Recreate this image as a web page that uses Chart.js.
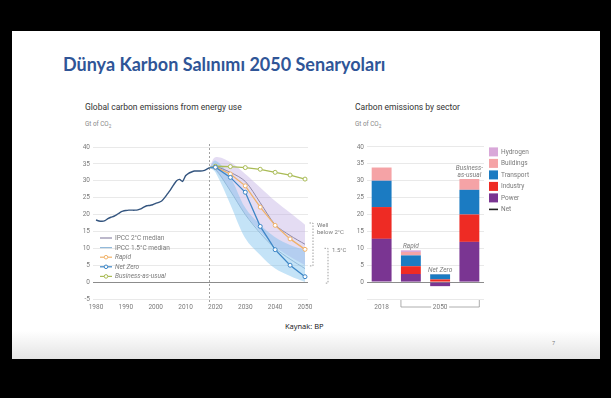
<!DOCTYPE html>
<html>
<head>
<meta charset="utf-8">
<script src="https://cdn.jsdelivr.net/npm/chart.js@4"></script>
<style>
html, body { margin: 0; padding: 0; background: #000; width: 611px; height: 398px; overflow: hidden; }
#slide { position: absolute; left: 12px; top: 31px; width: 588px; height: 328px;
  background: linear-gradient(to bottom, #fff 0, #fff 300px, #e4e4e4 328px); }
.t { position: absolute; white-space: nowrap; }
#title { left: 63px; top: 54px; font: bold 18px Lato, sans-serif; color: #2f5597; line-height: 21px; }
.ctitle { top: 102px; font: 400 8.5px Roboto, sans-serif; color: #333; }
.unit { top: 120px; font: 6.3px Roboto, sans-serif; color: #888; }
.unit sub { font-size: 4.5px; }
#src { left: 285px; top: 321px; font: 7.5px 'Open Sans', sans-serif; color: #111; }
#pg { left: 552px; top: 339px; font: 5.5px 'Open Sans', sans-serif; color: #777; }
canvas { position: absolute; }
</style>
</head>
<body>
<div id="slide"></div>
<div class="t" id="title">Dünya Karbon Salınımı 2050 Senaryoları</div>
<div class="t ctitle" style="left:85px">Global carbon emissions from energy use</div>
<div class="t unit" style="left:85px">Gt of CO<sub>2</sub></div>
<div class="t ctitle" style="left:355px">Carbon emissions by sector</div>
<div class="t unit" style="left:355px">Gt of CO<sub>2</sub></div>
<div class="t" id="src">Kaynak: BP</div>
<div class="t" id="pg">7</div>
<canvas id="chartLines" width="300" height="185" style="left:60px;top:140px"></canvas>
<canvas id="chartSector" width="200" height="185" style="left:345px;top:140px"></canvas>
<script>
// ---- left chart data ----
const histYears = [1980,1981,1982,1983,1984,1985,1986,1987,1988,1989,1990,1991,1992,1993,1994,1995,1996,1997,1998,1999,
  2000,2001,2002,2003,2004,2005,2006,2007,2008,2009,2010,2011,2012,2013,2014,2015,2016,2017,2018]
const histValues = [18.4,18.1,18.0,18.2,18.8,19.2,19.5,20.0,20.6,21.0,21.2,21.3,21.3,21.3,21.4,21.7,22.2,22.6,22.7,22.9,
  23.3,23.6,24.0,25.0,26.2,27.4,28.8,30.0,30.4,29.8,31.5,32.2,32.6,32.9,32.9,32.9,33.0,33.4,33.9]

const scenYears = [2018, 2020, 2025, 2030, 2035, 2040, 2045, 2050]
const bau = [33.9, 34.3, 34.2, 33.9, 33.4, 32.5, 31.7, 30.5]
const rapid = [33.9, 34.0, 32.0, 28.5, 22.2, 16.8, 12.8, 9.7]
const netZero = [33.9, 34.0, 31.0, 26.6, 16.5, 9.6, 5.0, 1.6]
const ipcc2Median = [33.9, 34.2, 32.5, 29.8, 23.5, 17.0, 13.8, 11.2]
const ipcc15Median = [33.9, 33.5, 27.0, 20.0, 14.5, 10.0, 6.8, 4.0]
const band2Upper = [33.9, 37.0, 35.5, 32.0, 28.0, 24.0, 20.5, 17.0]
const band2Lower = [33.9, 33.0, 27.0, 20.0, 15.0, 10.5, 7.5, 5.0]
const band15Upper = [33.9, 36.0, 31.0, 22.0, 17.0, 13.3, 11.0, 9.5]
const band15Lower = [33.9, 32.5, 23.0, 13.0, 8.0, 4.0, 1.8, 0.0]

const xTicks = [1980, 1990, 2000, 2010, 2020, 2030, 2040, 2050]
const dividerYear = 2018
const bracketLabels = [['Well', 'below 2°C'], ['1.5°C']]
const bracketRanges = [[17.5, 4.8], [10, -0.3]]
const legendLabels = ['IPCC 2°C median', 'IPCC 1.5°C median', 'Rapid', 'Net Zero', 'Business-as-usual']

// ---- right chart data ----
const sectorBars = ['2018', 'Rapid', 'Net Zero', 'Business-as-usual']
const barLabels = [[], ['Rapid'], ['Net Zero'], ['Business-', 'as-usual']]
const xTickLabels = ['2018', '', '2050', '']
const sectors = ['Power', 'Industry', 'Transport', 'Buildings', 'Hydrogen']
const power = [12.8, 2.4, -1.2, 11.9]
const industry = [9.4, 2.3, 0.8, 8.1]
const transport = [7.8, 3.2, 1.5, 7.3]
const buildings = [3.9, 1.0, 0.1, 3.2]
const hydrogen = [0, 0.5, 0, 0]
const net = [null, null, 1.2, null]

const grey = '#7a7a7a'
const tickFont = { family: 'Roboto', size: 6.5 }
const c = {
    hist: '#34557f', bau: '#a9bb55', rapid: '#f0b269', netZero: '#3d86c6',
    med2: '#8f88a8', med15: '#93bada',
    band2: 'rgba(190,172,226,0.42)', band15: 'rgba(115,188,236,0.42)'
}
const sectorColors = ['#7a3592', '#ee2b24', '#1b7bc2', '#f5a3a6', '#d9a8d9']

const pts = arr => scenYears.map((y, i) => ({ x: y, y: arr[i] }))
const dotRadius = scenYears.map(y => y === dividerYear ? 0 : 2)

function scenarioLine(label, arr, color) {
    return {
        label: label, data: pts(arr), borderColor: color, borderWidth: 1.3,
        pointRadius: dotRadius, pointBackgroundColor: '#fff', pointBorderColor: color, pointBorderWidth: 1
    }
}

const leftExtras = {
    id: 'leftExtras',
    beforeDatasetsDraw(chart) {
        const { ctx, chartArea, scales } = chart
        const x = scales.x.getPixelForValue(dividerYear)
        ctx.save()
        ctx.strokeStyle = '#8a8a8a'
        ctx.lineWidth = 0.8
        ctx.setLineDash([2, 2])
        ctx.beginPath()
        ctx.moveTo(x, chartArea.top - 3)
        ctx.lineTo(x, chartArea.bottom + 5)
        ctx.stroke()
        ctx.restore()
    },
    afterDraw(chart) {
        const { ctx, chartArea, scales } = chart
        ctx.save()
        // brackets on the right
        const bx = [chartArea.right + 5, chartArea.right + 20]
        bracketRanges.forEach((r, i) => {
            const y1 = scales.y.getPixelForValue(r[0]), y2 = scales.y.getPixelForValue(r[1])
            ctx.strokeStyle = '#777'
            ctx.lineWidth = 0.7
            ctx.setLineDash([1.5, 1.5])
            ctx.beginPath()
            ctx.moveTo(bx[i] - 3.5, y1); ctx.lineTo(bx[i], y1); ctx.lineTo(bx[i], y2); ctx.lineTo(bx[i] - 3.5, y2)
            ctx.stroke()
            ctx.setLineDash([])
            ctx.fillStyle = grey
            ctx.font = '6px Roboto'
            ctx.textBaseline = 'middle'
            bracketLabels[i].forEach((t, j) => ctx.fillText(t, bx[i] + 4, y1 + 2 + j * 7.5))
        })
        // legend
        const colors = [c.med2, c.med15, c.rapid, c.netZero, c.bau]
        const lx = chartArea.left + 7, ly = chartArea.top + 91
        legendLabels.forEach((t, i) => {
            const y = ly + i * 9.6
            ctx.strokeStyle = colors[i]
            ctx.lineWidth = 1.2
            ctx.beginPath(); ctx.moveTo(lx, y); ctx.lineTo(lx + 12, y); ctx.stroke()
            if (i > 1) {
                ctx.fillStyle = '#fff'
                ctx.lineWidth = 1
                ctx.beginPath(); ctx.arc(lx + 6, y, 1.8, 0, Math.PI * 2); ctx.fill(); ctx.stroke()
            }
            ctx.fillStyle = grey
            ctx.font = (i > 1 ? 'italic ' : '') + '6.5px Roboto'
            ctx.textBaseline = 'middle'
            ctx.fillText(t, lx + 15, y + 0.3)
        })
        ctx.restore()
    }
}

new Chart(document.getElementById('chartLines'), {
    type: 'line',
    data: {
        datasets: [
            { label: 'History', data: histYears.map((y, i) => ({ x: y, y: histValues[i] })),
              borderColor: c.hist, borderWidth: 1.4, pointRadius: 0, tension: 0.2 },
            scenarioLine('Net Zero', netZero, c.netZero),
            scenarioLine('Rapid', rapid, c.rapid),
            scenarioLine('Business-as-usual', bau, c.bau),
            { label: 'IPCC 1.5°C median', data: pts(ipcc15Median), borderColor: c.med15, borderWidth: 1, pointRadius: 0, tension: 0.3 },
            { label: 'IPCC 2°C median', data: pts(ipcc2Median), borderColor: c.med2, borderWidth: 1, pointRadius: 0, tension: 0.3 },
            { label: 'b15u', data: pts(band15Upper), borderWidth: 0, pointRadius: 0, tension: 0.35, fill: '+1', backgroundColor: c.band15 },
            { label: 'b15l', data: pts(band15Lower), borderWidth: 0, pointRadius: 0, tension: 0.35 },
            { label: 'b2u', data: pts(band2Upper), borderWidth: 0, pointRadius: 0, tension: 0.35, fill: '+1', backgroundColor: c.band2 },
            { label: 'b2l', data: pts(band2Lower), borderWidth: 0, pointRadius: 0, tension: 0.35 }
        ]
    },
    options: {
        responsive: false,
        animation: false,
        layout: { padding: { left: 0, right: 52, top: 7, bottom: 10 } },
        plugins: { legend: { display: false }, tooltip: { enabled: false } },
        scales: {
            x: {
                type: 'linear', min: 1979, max: 2051,
                afterBuildTicks: s => { s.ticks = xTicks.map(v => ({ value: v })) },
                afterFit: s => { s.height = 16 },
                grid: { display: false, drawTicks: false }, border: { display: false },
                ticks: { font: tickFont, color: grey, padding: 4, maxRotation: 0, callback: v => String(v) }
            },
            y: {
                min: -5, max: 40,
                afterFit: s => { s.width = 33 },
                grid: { color: ctx => ctx.tick.value === 0 ? '#8c8c8c' : '#e3e3e3', lineWidth: ctx => ctx.tick.value === 0 ? 1 : 0.8, drawTicks: false },
                border: { display: false },
                ticks: { stepSize: 5, font: tickFont, color: grey, padding: 3 }
            }
        }
    },
    plugins: [leftExtras]
})

const rightExtras = {
    id: 'rightExtras',
    afterDraw(chart) {
        const { ctx, chartArea, scales } = chart
        const bars = chart.getDatasetMeta(0).data
        ctx.save()
        // labels above bars
        ctx.fillStyle = grey
        ctx.font = 'italic 6.5px Roboto'
        ctx.textAlign = 'center'
        ctx.textBaseline = 'middle'
        sectorBars.forEach((b, i) => {
            const top = [power, industry, transport, buildings, hydrogen].reduce((s, a) => s + Math.max(a[i], 0), 0)
            const y = scales.y.getPixelForValue(top) - 4
            const lines = barLabels[i]
            lines.forEach((t, j) => ctx.fillText(t, bars[i].x, y - (lines.length - 1 - j) * 6.5))
        })
        // 2050 bracket
        const x1 = bars[1].x - bars[1].width / 2, x2 = bars[3].x + bars[3].width / 2
        const by = chartArea.bottom + 8, mid = bars[2].x
        ctx.strokeStyle = '#999'
        ctx.lineWidth = 0.8
        ctx.beginPath()
        ctx.moveTo(x1, by - 7); ctx.lineTo(x1, by); ctx.lineTo(mid - 9, by)
        ctx.moveTo(mid + 9, by); ctx.lineTo(x2, by); ctx.lineTo(x2, by - 7)
        ctx.stroke()
        // legend
        const lx = chartArea.right + 5, ly = chartArea.top + 5
        const items = sectors.slice().reverse()
        const cols = sectorColors.slice().reverse()
        ctx.textAlign = 'left'
        ctx.font = '6.5px Roboto'
        items.concat(['Net']).forEach((t, i) => {
            const y = ly + i * 11.5
            if (i < items.length) {
                ctx.fillStyle = cols[i]
                ctx.fillRect(lx, y - 4.5, 9, 9)
            } else {
                ctx.fillStyle = '#222'
                ctx.fillRect(lx, y - 0.8, 9, 1.6)
            }
            ctx.fillStyle = grey
            ctx.fillText(t, lx + 12, y + 0.3)
        })
        ctx.restore()
    }
}

const sectorValues = [power, industry, transport, buildings, hydrogen]

new Chart(document.getElementById('chartSector'), {
    type: 'bar',
    data: {
        labels: sectorBars,
        datasets: sectors.map((s, i) => ({
            label: s, data: sectorValues[i], backgroundColor: sectorColors[i], stack: 'sectors',
            categoryPercentage: 1, barPercentage: 0.68
        })).concat([{
            type: 'line', label: 'Net', data: net, stack: 'net', showLine: false,
            pointStyle: 'line', pointRadius: 5, borderColor: '#222', borderWidth: 1.6
        }])
    },
    options: {
        responsive: false,
        animation: false,
        layout: { padding: { left: 0, right: 61, top: 6, bottom: 10 } },
        plugins: { legend: { display: false }, tooltip: { enabled: false } },
        scales: {
            x: {
                stacked: true,
                afterFit: s => { s.height = 16 },
                grid: { display: false, drawTicks: false }, border: { display: false },
                ticks: { font: tickFont, color: grey, padding: 4, maxRotation: 0, autoSkip: false,
                    callback: (v, i) => xTickLabels[i] }
            },
            y: {
                stacked: true, min: -5, max: 40,
                afterFit: s => { s.width = 22 },
                grid: { color: ctx => ctx.tick.value === 0 ? '#8c8c8c' : '#e3e3e3', lineWidth: ctx => ctx.tick.value === 0 ? 1 : 0.8, drawTicks: false },
                border: { display: false },
                ticks: { stepSize: 5, font: tickFont, color: grey, padding: 3, callback: v => v < 0 ? '' : v }
            }
        }
    },
    plugins: [rightExtras]
})
</script>
</body>
</html>
